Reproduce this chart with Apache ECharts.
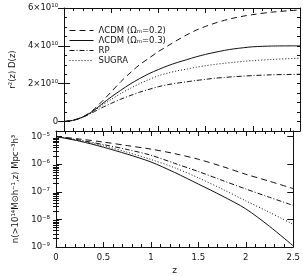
<!DOCTYPE html>
<html>
<head>
<meta charset="utf-8">
<script src="https://cdn.jsdelivr.net/npm/echarts@6/dist/echarts.min.js"></script>
<style>
  html, body { margin: 0; padding: 0; background: #fff; }
  #main { width: 303px; height: 276px; }
</style>
</head>
<body>
<div id="main"></div>
<script>
// series names, in legend order
var names = ['ΛCDM (Ωₘ=0.2)', 'ΛCDM (Ωₘ=0.3)', 'RP', 'SUGRA'];

// top panel: r^2(z) D(z)
var zTop = [0, 0.1, 0.2, 0.3, 0.4, 0.5, 0.6, 0.7, 0.8, 0.9, 1.0, 1.1, 1.2, 1.3, 1.4, 1.5, 1.6, 1.7, 1.8, 1.9, 2.0, 2.2, 2.5];
var rdLcdm02 = [0, 0.07e10, 0.25e10, 0.58e10, 1.05e10, 1.57e10, 2.1e10, 2.57e10, 3.0e10, 3.35e10, 3.7e10, 4.0e10, 4.3e10, 4.58e10, 4.83e10, 5.03e10, 5.2e10, 5.35e10, 5.47e10, 5.57e10, 5.65e10, 5.78e10, 5.9e10];
var rdLcdm03 = [0, 0.07e10, 0.24e10, 0.53e10, 0.92e10, 1.3e10, 1.65e10, 1.98e10, 2.27e10, 2.53e10, 2.75e10, 2.95e10, 3.12e10, 3.27e10, 3.42e10, 3.55e10, 3.66e10, 3.76e10, 3.84e10, 3.9e10, 3.95e10, 3.99e10, 4.0e10];
var rdRP = [0, 0.07e10, 0.23e10, 0.47e10, 0.73e10, 0.96e10, 1.18e10, 1.37e10, 1.55e10, 1.7e10, 1.84e10, 1.95e10, 2.03e10, 2.1e10, 2.17e10, 2.23e10, 2.29e10, 2.33e10, 2.37e10, 2.4e10, 2.43e10, 2.47e10, 2.5e10];
var rdSUGRA = [0, 0.07e10, 0.24e10, 0.51e10, 0.85e10, 1.17e10, 1.48e10, 1.75e10, 2.0e10, 2.22e10, 2.42e10, 2.56e10, 2.68e10, 2.77e10, 2.87e10, 2.95e10, 3.02e10, 3.08e10, 3.13e10, 3.18e10, 3.22e10, 3.28e10, 3.35e10];

// bottom panel: n(>1e14 Msun/h, z)
var zBot = [0, 0.25, 0.5, 0.75, 1.0, 1.25, 1.5, 1.75, 2.0, 2.25, 2.5];
var nLcdm02 = [1.0e-5, 8.1e-6, 6.3e-6, 4.7e-6, 3.5e-6, 2.4e-6, 1.5e-6, 8.3e-7, 4.3e-7, 2.4e-7, 1.3e-7];
var nLcdm03 = [1.0e-5, 6.8e-6, 4.1e-6, 2.3e-6, 1.2e-6, 5.0e-7, 1.9e-7, 7.1e-8, 2.4e-8, 5.6e-9, 1.1e-9];
var nRP = [1.0e-5, 7.4e-6, 5.1e-6, 3.4e-6, 2.1e-6, 1.07e-6, 5.4e-7, 2.6e-7, 1.26e-7, 6.3e-8, 3.2e-8];
var nSUGRA = [1.0e-5, 7.1e-6, 4.6e-6, 2.7e-6, 1.48e-6, 7.4e-7, 3.2e-7, 1.26e-7, 4.7e-8, 1.8e-8, 6.6e-9];

// tick labels
var xTicks = [0, 0.5, 1, 1.5, 2, 2.5];
var topTicks = [0, 2e10, 4e10, 6e10];
var botTicks = [1e-9, 1e-8, 1e-7, 1e-6, 1e-5];

var sup = {'0':'⁰','1':'¹','2':'²','3':'³','4':'⁴','5':'⁵','6':'⁶','7':'⁷','8':'⁸','9':'⁹','-':'⁻'};
function toSup(s) { return String(s).split('').map(function (c) { return sup[c]; }).join(''); }

// minor log ticks 2..9 per decade
var botMinor = [];
botTicks.forEach(function (d) {
    for (var k = 2; k <= 9; k++) botMinor.push(d * k);
});

var ink = '#111';
var font = 'DejaVu Sans';
var lineTypes = [[6, 4], 'solid', [5, 2, 1, 2], [1, 2]];
var styles = lineTypes.map(function (t) {
    return { color: ink, width: 1, type: t };
});

function pairs(xs, ys) { return xs.map(function (x, i) { return [x, ys[i]]; }); }

var axisLine = { show: true, onZero: false, lineStyle: { color: ink, width: 1 } };

function xAx(grid, pos, labels) {
    return {
        type: 'value', gridIndex: grid, position: pos, min: 0, max: 2.5, interval: 0.5,
        axisLine: axisLine,
        axisTick: { inside: true, length: 5, lineStyle: { color: ink } },
        minorTick: { show: true, splitNumber: 5, length: 3, lineStyle: { color: ink } },
        splitLine: { show: false },
        axisLabel: labels ? {
            show: true, color: ink, fontSize: 8.5, fontFamily: font, margin: 6,
            customValues: xTicks,
            formatter: function (v) { return String(v); }
        } : { show: false },
        name: labels ? 'z' : '',
        nameLocation: 'middle', nameGap: 19,
        nameTextStyle: { color: ink, fontSize: 9, fontFamily: font }
    };
}

var topName = 'r²(z) D(z)';
var botName = 'n(>10¹⁴M⊙h⁻¹,z) Mpc⁻³h³';

var option = {
    animation: false,
    backgroundColor: '#fff',
    grid: [
        { left: 56, right: 3, top: 8, height: 123 },
        { left: 56, right: 3, top: 131, height: 123 }
    ],
    legend: {
        orient: 'vertical', left: 64, top: 21,
        itemWidth: 24, itemHeight: 8, itemGap: 1,
        data: names,
        itemStyle: { opacity: 0 },
        lineStyle: { width: 1 },
        textStyle: { color: ink, fontSize: 8.5, fontFamily: font }
    },
    xAxis: [
        xAx(0, 'bottom', false),
        xAx(0, 'top', false),
        xAx(1, 'bottom', true),
        xAx(1, 'top', false)
    ],
    yAxis: [
        {
            type: 'value', gridIndex: 0, position: 'left', min: -0.5e10, max: 6e10, interval: 0.5e10,
            axisLine: axisLine,
            axisTick: { inside: true, length: 3, lineStyle: { color: ink } },
            splitLine: { show: false },
            axisLabel: {
                color: ink, fontSize: 8.5, fontFamily: font, margin: 6,
                customValues: topTicks,
                formatter: function (v) { return v === 0 ? '0' : Math.round(v / 1e10) + '×10¹⁰'; }
            },
            name: topName, nameLocation: 'middle', nameGap: 36, nameRotate: 90,
            nameTextStyle: { color: ink, fontSize: 8.5, fontFamily: font }
        },
        {
            type: 'value', gridIndex: 0, position: 'left', min: -0.5e10, max: 6e10,
            axisLine: { show: false },
            axisTick: { inside: true, length: 6, customValues: topTicks, lineStyle: { color: ink } },
            splitLine: { show: false }, axisLabel: { show: false }
        },
        {
            type: 'value', gridIndex: 0, position: 'right', min: -0.5e10, max: 6e10, interval: 0.5e10,
            axisLine: axisLine,
            axisTick: { inside: true, length: 3, lineStyle: { color: ink } },
            splitLine: { show: false }, axisLabel: { show: false }
        },
        {
            type: 'value', gridIndex: 0, position: 'right', min: -0.5e10, max: 6e10,
            axisLine: { show: false },
            axisTick: { inside: true, length: 6, customValues: topTicks, lineStyle: { color: ink } },
            splitLine: { show: false }, axisLabel: { show: false }
        },
        {
            type: 'log', logBase: 10, gridIndex: 1, position: 'left', min: 1e-9, max: 1.585e-5,
            axisLine: axisLine,
            axisTick: { inside: true, length: 6, customValues: botTicks, lineStyle: { color: ink } },
            splitLine: { show: false },
            axisLabel: {
                color: ink, fontSize: 8.5, fontFamily: font, margin: 6,
                customValues: botTicks,
                formatter: function (v) { return '10' + toSup(Math.round(Math.log10(v))); }
            },
            name: botName, nameLocation: 'middle', nameGap: 36, nameRotate: 90,
            nameTextStyle: { color: ink, fontSize: 8.5, fontFamily: font }
        },
        {
            type: 'log', logBase: 10, gridIndex: 1, position: 'left', min: 1e-9, max: 1.585e-5,
            axisLine: { show: false },
            axisTick: { inside: true, length: 3, customValues: botMinor, lineStyle: { color: ink } },
            splitLine: { show: false }, axisLabel: { show: false }
        },
        {
            type: 'log', logBase: 10, gridIndex: 1, position: 'right', min: 1e-9, max: 1.585e-5,
            axisLine: axisLine,
            axisTick: { inside: true, length: 6, customValues: botTicks, lineStyle: { color: ink } },
            splitLine: { show: false }, axisLabel: { show: false }
        },
        {
            type: 'log', logBase: 10, gridIndex: 1, position: 'right', min: 1e-9, max: 1.585e-5,
            axisLine: { show: false },
            axisTick: { inside: true, length: 3, customValues: botMinor, lineStyle: { color: ink } },
            splitLine: { show: false }, axisLabel: { show: false }
        }
    ],
    series: []
};

var topData = [rdLcdm02, rdLcdm03, rdRP, rdSUGRA];
var botData = [nLcdm02, nLcdm03, nRP, nSUGRA];
names.forEach(function (n, i) {
    option.series.push({
        name: n, type: 'line', xAxisIndex: 0, yAxisIndex: 0,
        data: pairs(zTop, topData[i]), smooth: 0.3, symbol: 'none',
        lineStyle: styles[i], itemStyle: { color: ink }
    });
    option.series.push({
        name: n, type: 'line', xAxisIndex: 2, yAxisIndex: 4,
        data: pairs(zBot, botData[i]), smooth: 0.3, symbol: 'none',
        lineStyle: styles[i], itemStyle: { color: ink }
    });
});

var myChart = echarts.init(document.getElementById('main'));
myChart.setOption(option);
</script>
</body>
</html>
